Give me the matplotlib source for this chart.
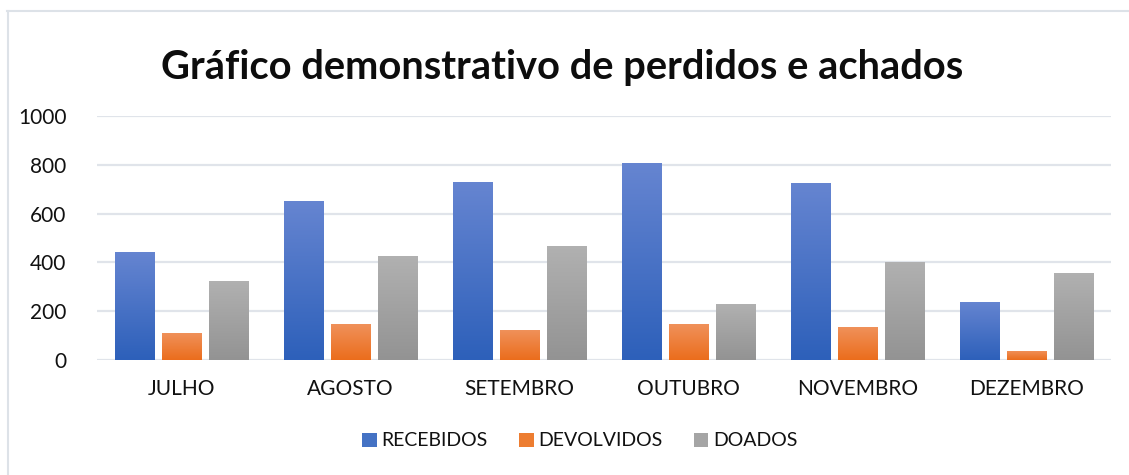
import numpy as np
import matplotlib
matplotlib.use("Agg")
import matplotlib.pyplot as plt
from matplotlib.colors import LinearSegmentedColormap
from matplotlib.lines import Line2D
from matplotlib.patches import Patch

months = ["JULHO", "AGOSTO", "SETEMBRO", "OUTUBRO", "NOVEMBRO", "DEZEMBRO"]
recebidos = [443, 653, 731, 809, 727, 238]
devolvidos = [111, 148, 123, 148, 136, 37]
doados = [324, 427, 468, 230, 402, 357]
series_names = ["RECEBIDOS", "DEVOLVIDOS", "DOADOS"]

# (top colour, bottom colour) for the Excel-style gradient fill
GRAD = [("#6685d1", "#2d60ba"), ("#f0925c", "#eb6d1c"), ("#b1b1b1", "#939393")]
SOLID = ["#4472c4", "#ed7d31", "#a5a5a5"]

W, H = 1129, 475
fig = plt.figure(figsize=(W / 100, H / 100), dpi=100)
fig.patch.set_facecolor("white")
plt.rcParams["font.family"] = ["Lato", "DejaVu Sans"]

# outer chart frame (only top and left visible in the screenshot)
fig.add_artist(Line2D([7 / W, 1.0], [1 - 11 / H, 1 - 11 / H], color="#dde2e8", lw=1.5))
fig.add_artist(Line2D([7.5 / W, 7.5 / W], [0, 1 - 11 / H], color="#dde2e8", lw=1.5))

ax = fig.add_axes([97 / W, (H - 360) / H, (1111 - 97) / W, (360 - 116) / H])
ax.set_xlim(-0.5, len(months) - 0.5)
ax.set_ylim(0, 1000)
for s in ax.spines.values():
    s.set_visible(False)
ax.set_yticks(range(0, 1001, 200))
ax.yaxis.grid(True, color="#e0e4ea", lw=1.6)
ax.set_axisbelow(True)
ax.tick_params(axis="both", length=0, labelsize=15, colors="#111111")
ax.tick_params(axis="y", pad=22)
ax.tick_params(axis="x", pad=14)
ax.set_xticks(range(len(months)))
ax.set_xticklabels(months)

x = np.arange(len(months))
bw = 0.231
step = 0.278
grad = np.linspace(0, 1, 256).reshape(-1, 1)
for i, vals in enumerate([recebidos, devolvidos, doados]):
    cmap = LinearSegmentedColormap.from_list("g%d" % i, [GRAD[i][1], GRAD[i][0]])
    bars = ax.bar(x + (i - 1) * step, vals, width=bw, color="none", edgecolor="none", zorder=3)
    for b in bars:
        x0, y0 = b.get_x(), b.get_y()
        im = ax.imshow(grad, cmap=cmap, aspect="auto", origin="lower",
                       extent=[x0, x0 + b.get_width(), y0, y0 + b.get_height()], zorder=3)
        im.set_clip_path(b)
ax.set_xlim(-0.5, len(months) - 0.5)
ax.set_ylim(0, 1000)

fig.text(0.5 * (162 + 963) / W, 1 - 67 / H, "Gráfico demonstrativo de perdidos e achados",
         ha="center", va="center", fontsize=28.7, weight="bold", color="#0d0d0d")

handles = [Patch(facecolor=SOLID[i], edgecolor="none") for i in range(3)]
fig.legend(handles, series_names, loc="center", bbox_to_anchor=(580 / W, 1 - 441 / H),
           ncol=3, frameon=False, fontsize=14, handlelength=0.75, handleheight=0.75,
           handletextpad=0.25, columnspacing=1.6, labelcolor="#111111")

fig.savefig("out.png", dpi=100, facecolor="white")
